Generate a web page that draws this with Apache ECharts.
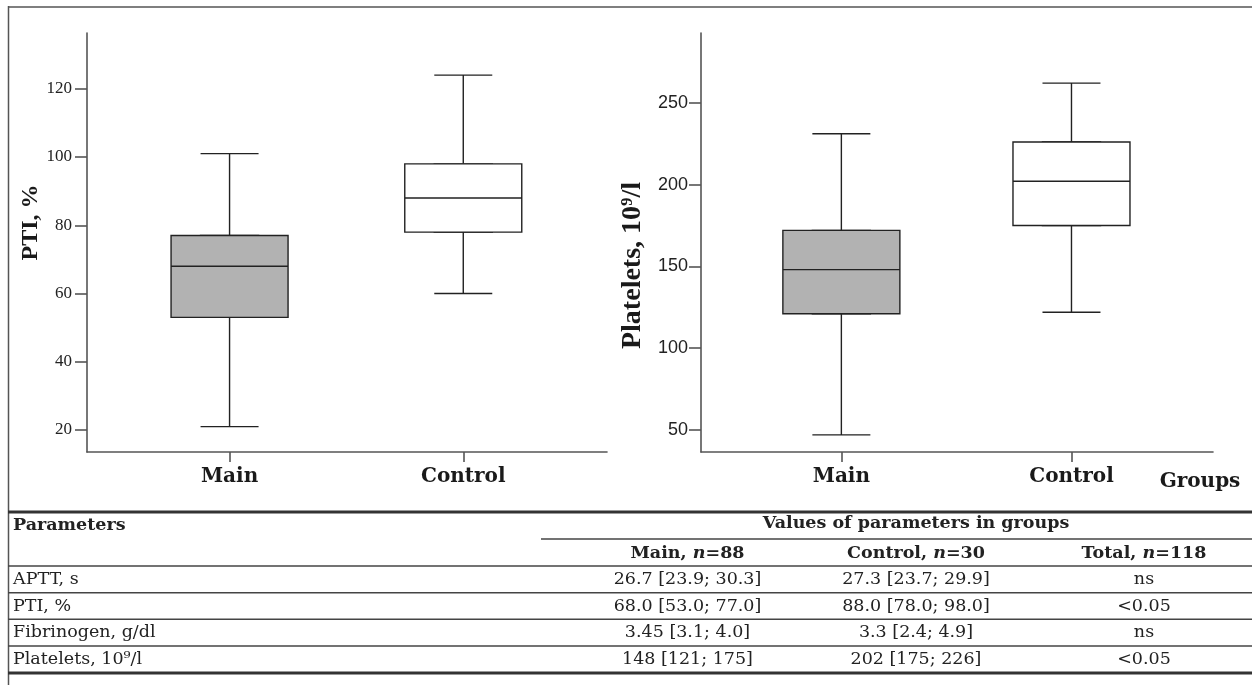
<!DOCTYPE html>
<html><head><meta charset="utf-8">
<script src="https://cdn.jsdelivr.net/npm/echarts@6/dist/echarts.min.js"></script>
<style>html,body{margin:0;padding:0;background:#fff}#chart{width:1252px;height:685px}</style>
</head><body><div id="chart"></div>
<script>
// ---- data ----
const groups = ['Main', 'Control'];
// [lower whisker, Q1, median, Q3, upper whisker]
const ptiMain = [21, 53, 68, 77, 101];
const ptiControl = [60, 78, 88, 98, 124];
const plateletsMain = [47, 121, 148, 172, 231];
const plateletsControl = [122, 175, 202, 226, 262];
const ptiTicks = [20, 40, 60, 80, 100, 120];
const plateletTicks = [50, 100, 150, 200, 250];

const tableParams = ['APTT, s', 'PTI, %', 'Fibrinogen, g/dl', 'Platelets, 10⁹/l'];
const tableMain = ['26.7 [23.9; 30.3]', '68.0 [53.0; 77.0]', '3.45 [3.1; 4.0]', '148 [121; 175]'];
const tableControl = ['27.3 [23.7; 29.9]', '88.0 [78.0; 98.0]', '3.3 [2.4; 4.9]', '202 [175; 226]'];
const tableTotal = ['ns', '<0.05', 'ns', '<0.05'];
const tableGroupNames = ['Main', 'Control', 'Total'];
const tableGroupN = [88, 30, 118];

// ---- styles ----
const boxFills = ['#b2b2b2', '#ffffff'];
const AXIS = '#555';
const INK = '#1a1a1a';
const SERIF_T = 'DejaVu Serif';
const SERIF_A = 'Liberation Serif';

const chart = echarts.init(document.getElementById('chart'), null, {renderer: 'canvas'});

function visXAxis(gridIndex) {
  return {
    type: 'value', gridIndex: gridIndex, min: -0.61, max: 1.615,
    axisLine: {show: true, onZero: false, lineStyle: {color: AXIS, width: 1.6}},
    axisTick: {show: true, customValues: [0, 1], length: 10, lineStyle: {color: AXIS, width: 1.6}},
    axisLabel: {show: true, customValues: [0, 1], margin: 15,
      formatter: function (v) { return groups[Math.round(v)]; },
      color: INK, fontFamily: SERIF_T, fontWeight: 'bold', fontSize: 20},
    splitLine: {show: false}
  };
}
function hidXAxis(gridIndex) {
  return {type: 'value', gridIndex: gridIndex, min: -0.61, max: 1.615, show: false,
    splitLine: {show: false}};
}
function yAx(gridIndex, min, max, ticks, name, nameOpts, labelOpts) {
  return Object.assign({
    type: 'value', gridIndex: gridIndex, min: min, max: max,
    name: name, nameLocation: 'middle', nameRotate: 90,
    axisLine: {show: true, onZero: false, lineStyle: {color: AXIS, width: 1.6}},
    axisTick: {show: true, customValues: ticks, length: 12, lineStyle: {color: AXIS, width: 1.6}},
    axisLabel: Object.assign({show: true, customValues: ticks, color: '#222'}, labelOpts),
    splitLine: {show: false}
  }, nameOpts);
}
function whiskerSeries(xi, yi, a, b) {
  return {
    type: 'boxplot', xAxisIndex: xi, yAxisIndex: yi, boxWidth: [58, 58], silent: true,
    data: [[0].concat(a), [1].concat(b)],
    itemStyle: {color: '#fff', borderColor: '#222', borderWidth: 1.4}
  };
}
function boxSeries(xi, yi, a, b) {
  return {
    type: 'boxplot', xAxisIndex: xi, yAxisIndex: yi, boxWidth: [117, 117], silent: true,
    data: [a, b].map(function (s, i) {
      return {value: [i, s[1], s[1], s[2], s[3], s[3]], itemStyle: {color: boxFills[i]}};
    }),
    itemStyle: {borderColor: '#222', borderWidth: 1.4}
  };
}

// ---- table graphics ----
const G = [];
function hline(y, x1, x2, w, c) {
  G.push({type: 'line', silent: true, shape: {x1: x1, y1: y, x2: x2, y2: y}, style: {stroke: c, lineWidth: w}});
}
function txt(x, y, text, align, opts) {
  G.push({type: 'text', x: x, y: y, silent: true, style: Object.assign({
    text: text, align: align, verticalAlign: 'middle', textAlign: align, textVerticalAlign: 'middle',
    fill: '#222', fontFamily: SERIF_T, fontSize: 17.5
  }, opts || {})});
}
// frame
G.push({type: 'line', silent: true, shape: {x1: 8.5, y1: 6, x2: 8.5, y2: 685}, style: {stroke: '#555', lineWidth: 1.5}});
hline(7, 8, 1252, 1.5, '#555');
// table rules
hline(512, 8, 1252, 3, '#333');
hline(539, 541, 1252, 1.4, '#444');
const rowLines = [566, 592.7, 619.3, 646];
rowLines.forEach(function (y) { hline(y, 8, 1252, 1.5, '#444'); });
hline(673, 8, 1252, 3, '#333');
// header
const colX = [687.5, 916, 1144];
txt(13, 525, 'Parameters', 'left', {fontWeight: 'bold'});
txt(916, 523, 'Values of parameters in groups', 'center', {fontWeight: 'bold'});
const richHead = {
  b: {fontFamily: SERIF_T, fontWeight: 'bold', fontSize: 17.5, fill: '#222'},
  i: {fontFamily: SERIF_T, fontWeight: 'bold', fontStyle: 'italic', fontSize: 17.5, fill: '#222'}
};
tableGroupNames.forEach(function (g, i) {
  txt(colX[i], 553, '{b|' + g + ', }{i|n}{b|=' + tableGroupN[i] + '}', 'center', {rich: richHead});
});
const rowY = [579.3, 606, 632.7, 659.3];
tableParams.forEach(function (p, r) {
  txt(13, rowY[r], p, 'left');
  txt(colX[0], rowY[r], tableMain[r], 'center');
  txt(colX[1], rowY[r], tableControl[r], 'center');
  txt(colX[2], rowY[r], tableTotal[r], 'center');
});
// x-axis title of right panel
txt(1200, 482, 'Groups', 'center', {fontWeight: 'bold', fontSize: 20, fill: INK});

chart.setOption({
  animation: false,
  backgroundColor: '#fff',
  grid: [
    {left: 87, right: 1252 - 607, top: 33, bottom: 685 - 452},
    {left: 701, right: 1252 - 1213, top: 33, bottom: 685 - 452}
  ],
  xAxis: [visXAxis(0), hidXAxis(0), visXAxis(1), hidXAxis(1)],
  yAxis: [
    yAx(0, 13.55, 136.35, ptiTicks, 'PTI, %',
      {nameGap: 40, nameTextStyle: {fontFamily: SERIF_A, fontWeight: 'bold', fontSize: 24, color: INK, padding: [0, 0, 0, 40]}},
      {margin: 15, fontFamily: SERIF_A, fontSize: 17}),
    yAx(1, 36.56, 292.6, plateletTicks, 'Platelets, 10⁹/l',
      {nameGap: 54, nameTextStyle: {fontFamily: SERIF_A, fontWeight: 'bold', fontSize: 28, color: INK, padding: [0, 46, 0, 0]}},
      {margin: 13, fontFamily: 'Liberation Sans', fontSize: 18})
  ],
  series: [
    whiskerSeries(0, 0, ptiMain, ptiControl),
    boxSeries(1, 0, ptiMain, ptiControl),
    whiskerSeries(2, 1, plateletsMain, plateletsControl),
    boxSeries(3, 1, plateletsMain, plateletsControl)
  ],
  graphic: {elements: G}
});
</script></body></html>
